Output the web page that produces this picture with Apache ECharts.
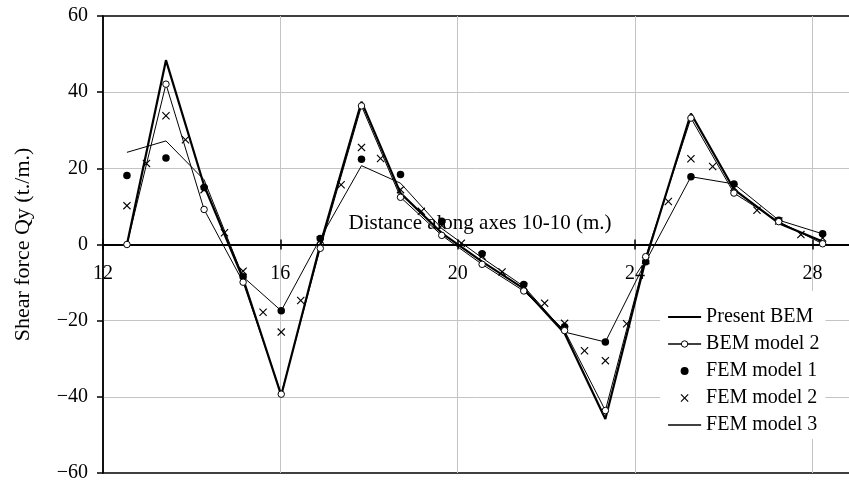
<!DOCTYPE html>
<html>
<head>
<meta charset="utf-8">
<script src="https://cdn.jsdelivr.net/npm/echarts@6/dist/echarts.min.js"></script>
<style>
  html, body { margin: 0; padding: 0; background: #fff; }
  #chart { width: 849px; height: 484px; }
</style>
</head>
<body>
<div id="chart"></div>
<script>
// Stations along axis 10-10 (m.) where the BEM / FEM results are reported
const xNodes = [12.54, 13.42, 14.28, 15.16, 16.02, 16.90, 17.83, 18.71, 19.64,
                20.55, 21.49, 22.41, 23.33, 24.24, 25.26, 26.23, 27.24, 28.23];

// Shear force Qy (t./m.) at the stations
const presentBEM = [0, 48.4, 15.5, -9.0, -39.6, 0.0, 37.5, 13.5, 3.0,
                    -4.5, -11.6, -23.3, -45.8, -4.0, 34.4, 14.5, 5.6, 0.8];
const bemModel2  = [0, 42.1, 9.2, -9.9, -39.3, -1.0, 36.4, 12.4, 2.4,
                    -5.2, -12.2, -22.6, -43.6, -3.2, 33.2, 13.5, 6.0, 0.2];
const femModel1  = [18.1, 22.7, 15.0, -8.5, -17.4, 1.6, 22.4, 18.4, 6.1,
                    -2.4, -10.5, -21.6, -25.6, -4.5, 17.8, 15.9, 6.4, 2.8];
const femModel3  = [24.2, 27.2, 17.0, -8.5, -17.4, 1.6, 20.7, 16.1, 4.2,
                    -3.5, -11.0, -23.0, -25.6, -4.5, 17.8, 15.9, 6.4, 2.8];

// FEM model 2 uses a finer mesh (stations and mid-points)
const xFem2 = [12.54, 12.98, 13.42, 13.86, 14.28, 14.74, 15.16, 15.61, 16.02,
               16.46, 16.90, 17.37, 17.83, 18.26, 18.71, 19.18, 19.64, 20.08,
               20.55, 21.00, 21.49, 21.96, 22.41, 22.86, 23.33, 23.81, 24.24,
               24.75, 25.26, 25.75, 26.23, 26.75, 27.24, 27.74, 28.23];
const femModel2 = [10.2, 21.3, 33.8, 27.5, 14.4, 3.1, -7.0, -17.8, -23.0,
                   -14.7, 1.2, 15.7, 25.5, 22.6, 14.4, 8.7, 5.0, 0.3,
                   -3.0, -7.2, -11.0, -15.4, -20.7, -27.9, -30.5, -20.8, -4.2,
                   11.3, 22.5, 20.5, 15.0, 9.0, 6.2, 2.6, 1.7];

// Axis ticks
const xTicks = [12, 16, 20, 24, 28];
const yTicks = [-60, -40, -20, 0, 20, 40, 60];

const zip = (xs, ys) => xs.map((x, i) => [x, ys[i]]);

const FONT = 'Liberation Serif';
const CROSS = 'path://M1,0 L5,4 L9,0 L10,1 L6,5 L10,9 L9,10 L5,6 L1,10 L0,9 L4,5 L0,1 Z';

const W = 849, H = 484;
const GRID = { left: 103, right: -2, top: 16, bottom: 11 };
const yMin = yTicks[0], yMax = yTicks[yTicks.length - 1];
// the distance axis runs along Qy = 0, so shift it from the grid edges to that level
const innerH = H - GRID.top - GRID.bottom;
const zeroFromBottom = innerH * (0 - yMin) / (yMax - yMin);
const zeroFromTop = innerH - zeroFromBottom;

const chart = echarts.init(document.getElementById('chart'), null, { renderer: 'canvas' });

chart.setOption({
  animation: false,
  backgroundColor: '#fff',
  textStyle: { fontFamily: FONT, color: '#000' },
  grid: Object.assign({
    outerBoundsMode: 'none',
    containLabel: false,
    show: true, borderColor: '#000', borderWidth: 1.3, backgroundColor: 'transparent'
  }, GRID),
  xAxis: [
    {
      type: 'value', min: xTicks[0], max: 28.87, interval: 4,
      position: 'bottom', offset: -zeroFromBottom,
      axisLine: { onZero: false, lineStyle: { color: '#000', width: 2 } },
      axisTick: { show: true, length: 5, lineStyle: { color: '#000', width: 1.5 } },
      axisLabel: {
        margin: 19, fontSize: 20, fontFamily: FONT, color: '#000',
        formatter: v => (xTicks.indexOf(v) >= 0 ? String(v) : '')
      },
      splitLine: { show: true, showMinLine: false, showMaxLine: false,
                   lineStyle: { color: '#c4c4c4', width: 1 } }
    },
    {
      type: 'value', min: xTicks[0], max: 28.87, interval: 4,
      position: 'top', offset: -zeroFromTop,
      name: 'Distance along axes 10-10 (m.)',
      nameLocation: 'middle', nameGap: 11,
      nameTextStyle: { fontSize: 21, fontFamily: FONT, color: '#000', padding: [0, 0, 0, 6] },
      axisLine: { onZero: false, lineStyle: { color: '#000', width: 2 } },
      axisTick: { show: true, length: 5, lineStyle: { color: '#000', width: 1.5 } },
      axisLabel: { show: false },
      splitLine: { show: false }
    }
  ],
  yAxis: {
    type: 'value', min: yMin, max: yMax, interval: 20,
    name: 'Shear force Qy (t./m.)',
    nameLocation: 'middle', nameGap: 69,
    nameTextStyle: { fontSize: 22, fontFamily: FONT, color: '#000' },
    axisLine: { show: true, onZero: false, lineStyle: { color: '#000', width: 1.6 } },
    axisTick: { show: true, length: 6, lineStyle: { color: '#000', width: 1.5 } },
    axisLabel: {
      margin: 15, fontSize: 20, fontFamily: FONT, color: '#000',
      formatter: v => (v < 0 ? '\u2212' + Math.abs(v) : String(v))
    },
    splitLine: { show: true, showMinLine: false, showMaxLine: false,
                 lineStyle: { color: '#c4c4c4', width: 1 } }
  },
  legend: {
    orient: 'vertical',
    left: 660, top: 291,
    padding: [16, 6, 4, 7],
    backgroundColor: '#fff',
    itemWidth: 33, itemHeight: 8, itemGap: 7,
    textStyle: { fontSize: 20, fontFamily: FONT, color: '#000', lineHeight: 20 },
    data: [
      { name: 'Present BEM', itemStyle: { opacity: 0 }, lineStyle: { width: 2.2 } },
      { name: 'BEM model 2', lineStyle: { width: 1.3 }, itemStyle: { borderWidth: 1 } },
      { name: 'FEM model 1' },
      { name: 'FEM model 2' },
      { name: 'FEM model 3', itemStyle: { opacity: 0 }, lineStyle: { width: 1.3 } }
    ]
  },
  series: [
    {
      name: 'FEM model 3', type: 'line', xAxisIndex: 0,
      data: zip(xNodes, femModel3),
      symbol: 'none', showSymbol: false,
      lineStyle: { color: '#000', width: 1 },
      itemStyle: { color: '#000' }
    },
    {
      name: 'FEM model 2', type: 'scatter', xAxisIndex: 0,
      data: zip(xFem2, femModel2),
      symbol: CROSS, symbolSize: 8,
      itemStyle: { color: '#000', opacity: 1 }
    },
    {
      name: 'Present BEM', type: 'line', xAxisIndex: 0,
      data: zip(xNodes, presentBEM),
      symbol: 'none', showSymbol: false,
      lineStyle: { color: '#000', width: 2.2 },
      itemStyle: { color: '#000' }
    },
    {
      name: 'BEM model 2', type: 'line', xAxisIndex: 0,
      data: zip(xNodes, bemModel2),
      symbol: 'circle', symbolSize: 6.5, showSymbol: true,
      lineStyle: { color: '#000', width: 1 },
      itemStyle: { color: '#fff', borderColor: '#000', borderWidth: 1 }
    },
    {
      name: 'FEM model 1', type: 'scatter', xAxisIndex: 0,
      data: zip(xNodes, femModel1),
      symbol: 'circle', symbolSize: 7.5,
      itemStyle: { color: '#000', opacity: 1 }
    }
  ]
});
</script>
</body>
</html>
